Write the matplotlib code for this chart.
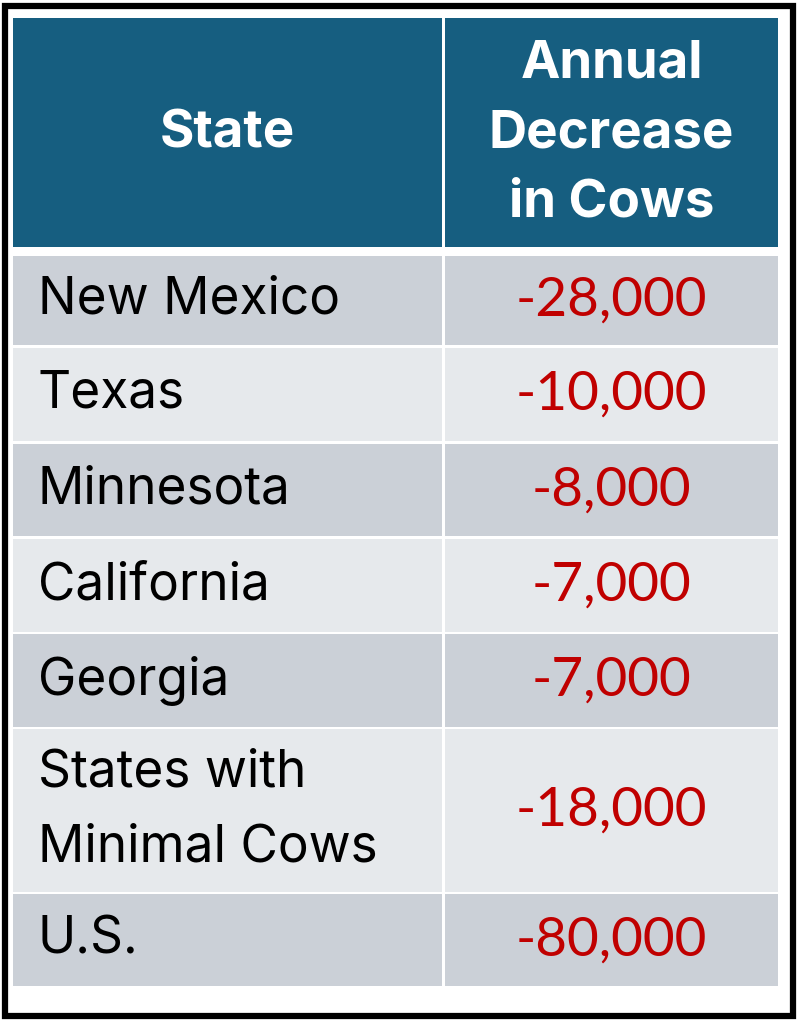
import matplotlib
matplotlib.use("Agg")
import matplotlib.pyplot as plt
from matplotlib.patches import Rectangle

# ---- data ----
header = ["State", "Annual\nDecrease\nin Cows"]
states = ["New Mexico", "Texas", "Minnesota", "California", "Georgia",
          "States with\nMinimal Cows", "U.S."]
decrease = [-28000, -10000, -8000, -7000, -7000, -18000, -80000]

# ---- style / layout ----
W, H = 798, 1024
HEADER_BG = "#165E80"
ROW_BG = ["#CBD0D7", "#E6E9EC"]
RED = "#C00000"
BODY_FONT = ["Inter", "DejaVu Sans"]
NUM_FONT = ["Lato", "DejaVu Sans"]

col_x = [13, 445]
col_w = [429, 333]
header_top, header_bot = 18, 247
row_tops = [256, 348, 444, 539, 634, 729, 894]
row_bots = [345, 441, 536, 632, 727, 892, 986]

fig = plt.figure(figsize=(W / 100, H / 100), dpi=100)
ax = fig.add_axes([0, 0, 1, 1])
ax.set_xlim(0, W)
ax.set_ylim(H, 0)
ax.axis("off")

# outer frame
ax.add_patch(Rectangle((5, 6), 788, 1010, fill=False, ec="black", lw=4.5))

# header
for j in range(2):
    ax.add_patch(Rectangle((col_x[j], header_top), col_w[j], header_bot - header_top,
                           fc=HEADER_BG, ec="none"))
hc = (header_top + header_bot) / 2
ax.text(col_x[0] + col_w[0] / 2, hc + 2, header[0], color="white", fontsize=38,
        fontweight="bold", family=BODY_FONT, ha="center", va="center")
ax.text(col_x[1] + col_w[1] / 2, hc + 1, header[1], color="white", fontsize=38,
        fontweight="bold", family=BODY_FONT, ha="center", va="center",
        linespacing=1.55)

for i, (name, val) in enumerate(zip(states, decrease)):
    t, b = row_tops[i], row_bots[i]
    bg = ROW_BG[i % 2]
    for j in range(2):
        ax.add_patch(Rectangle((col_x[j], t), col_w[j], b - t, fc=bg, ec="none"))
    c = (t + b) / 2
    ax.text(col_x[0] + 25, c, name, color="black", fontsize=37, family=BODY_FONT,
            ha="left", va="center", linespacing=1.66)
    ax.text(col_x[1] + col_w[1] / 2, c, f"{val:,}", color=RED, fontsize=39.5,
            family=NUM_FONT, ha="center", va="center")

fig.savefig("out.png", dpi=100, facecolor="white")
